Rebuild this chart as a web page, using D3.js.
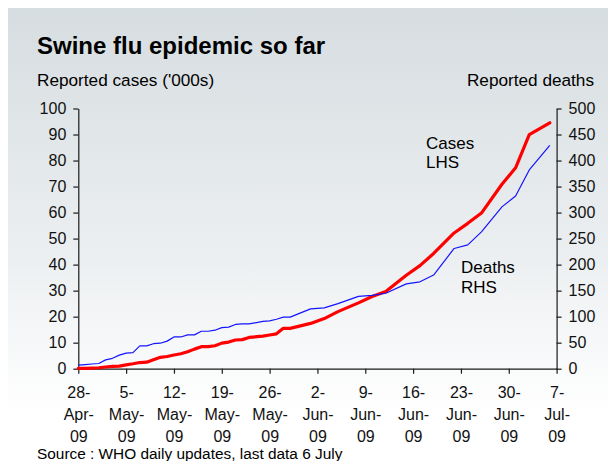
<!DOCTYPE html>
<html>
<head>
<meta charset="utf-8">
<script src="https://cdn.jsdelivr.net/npm/d3@7"></script>
<style>
  html, body { margin: 0; padding: 0; background: #ffffff; }
  svg { display: block; font-family: "Liberation Sans", Arial, sans-serif; }
</style>
</head>
<body>
<svg id="chart" width="608" height="461"></svg>
<script>
// WHO cumulative figures by update date
const dates = [
  "2009-04-28","2009-04-29","2009-04-30","2009-05-01","2009-05-02","2009-05-03","2009-05-04",
  "2009-05-05","2009-05-06","2009-05-07","2009-05-08","2009-05-09","2009-05-10","2009-05-11",
  "2009-05-12","2009-05-13","2009-05-14","2009-05-15","2009-05-16","2009-05-17","2009-05-18",
  "2009-05-19","2009-05-20","2009-05-21","2009-05-22","2009-05-23","2009-05-25","2009-05-26",
  "2009-05-27","2009-05-28","2009-05-29","2009-06-01","2009-06-03","2009-06-05","2009-06-08",
  "2009-06-10","2009-06-12","2009-06-15","2009-06-17","2009-06-19","2009-06-22","2009-06-24",
  "2009-06-26","2009-06-29","2009-07-01","2009-07-03","2009-07-06"
];
// reported cases, thousands (left axis)
const cases = [
  0.105, 0.148, 0.257, 0.367, 0.658, 0.898, 0.985,
  1.49, 1.89, 2.37, 2.5, 3.44, 4.38, 4.69,
  5.25, 5.73, 6.5, 7.52, 8.45, 8.48, 8.83,
  9.83, 10.24, 11.03, 11.17, 12.02, 12.52, 12.95,
  13.4, 15.51, 15.51, 17.41, 19.27, 21.94, 25.29,
  27.74, 29.67, 35.93, 39.62, 44.29, 52.16, 55.87,
  59.81, 70.89, 77.2, 89.92, 94.51
];
// reported deaths (right axis)
const deaths = [
  7, 8, 9, 10, 17, 20, 26,
  30, 31, 44, 44, 48, 49, 53,
  61, 61, 65, 65, 72, 72, 74,
  79, 80, 85, 86, 86, 91, 92,
  95, 99, 99, 115, 117, 125, 139,
  141, 145, 163, 167, 180, 231, 238,
  263, 311, 332, 382, 429
];

const tickDates = ["2009-04-28","2009-05-05","2009-05-12","2009-05-19","2009-05-26","2009-06-02",
                   "2009-06-09","2009-06-16","2009-06-23","2009-06-30","2009-07-07"];
const tickDay   = ["28","5","12","19","26","2","9","16","23","30","7"];
const tickMonth = ["Apr","May","May","May","May","Jun","Jun","Jun","Jun","Jun","Jul"];
const tickYear  = ["09","09","09","09","09","09","09","09","09","09","09"];
const leftTicks  = [0,10,20,30,40,50,60,70,80,90,100];
const rightTicks = [0,50,100,150,200,250,300,350,400,450,500];

const parse = d3.timeParse("%Y-%m-%d");
const rows = dates.map((d, i) => ({ date: parse(d), cases: cases[i], deaths: deaths[i] }));

const svg = d3.select("#chart");
const W = 608, H = 461;
const plot = { left: 78.3, right: 556.6, top: 108.5, bottom: 368.7 };

// panel background
const defs = svg.append("defs");
const grad = defs.append("linearGradient")
  .attr("id", "bg").attr("x1", 0).attr("y1", 0).attr("x2", 0).attr("y2", 1);
grad.append("stop").attr("offset", "0%").attr("stop-color", "#d6dde0");
grad.append("stop").attr("offset", "55%").attr("stop-color", "#eceff1");
grad.append("stop").attr("offset", "90%").attr("stop-color", "#ffffff");
svg.append("rect").attr("x", 8).attr("y", 8).attr("width", W - 8).attr("height", H - 8)
  .attr("fill", "url(#bg)");

const x = d3.scaleTime()
  .domain([parse(tickDates[0]), parse(tickDates[tickDates.length - 1])])
  .range([plot.left, plot.right]);
const yL = d3.scaleLinear().domain([0, 100]).range([plot.bottom, plot.top]);
const yR = d3.scaleLinear().domain([0, 500]).range([plot.bottom, plot.top]);

const axisColor = "#1a1a1a";
const tickFont = "16px";

// left axis
const gL = svg.append("g").attr("transform", `translate(${plot.left},0)`)
  .call(d3.axisLeft(yL).tickValues(leftTicks).tickSize(5).tickSizeOuter(0).tickPadding(7));
// right axis
const gR = svg.append("g").attr("transform", `translate(${plot.right},0)`)
  .call(d3.axisRight(yR).tickValues(rightTicks).tickSize(5).tickSizeOuter(0).tickPadding(7));
// bottom axis
const gX = svg.append("g").attr("transform", `translate(0,${plot.bottom})`)
  .call(d3.axisBottom(x).tickValues(tickDates.map(parse)).tickSize(5).tickSizeOuter(0).tickFormat(() => ""));

[gL, gR, gX].forEach(g => {
  g.select(".domain").attr("stroke", axisColor).attr("stroke-width", 1.2);
  g.selectAll(".tick line").attr("stroke", axisColor).attr("stroke-width", 1.2);
  g.selectAll(".tick text").attr("fill", "#111").style("font-size", tickFont)
    .style("font-family", "'Liberation Sans', Arial, sans-serif");
});

// three-line date labels under the bottom ticks
const lbl = gX.selectAll(".tick").select("text").text(null)
  .attr("y", 0).attr("dy", null);
lbl.each(function(d, i) {
  const t = d3.select(this);
  t.append("tspan").attr("x", 0).attr("y", 29.5).text(tickDay[i] + "-");
  t.append("tspan").attr("x", 0).attr("y", 51.5).text(tickMonth[i] + "-");
  t.append("tspan").attr("x", 0).attr("y", 73.5).text(tickYear[i]);
});

// series
const lineCases = d3.line().x(d => x(d.date)).y(d => yL(d.cases));
const lineDeaths = d3.line().x(d => x(d.date)).y(d => yR(d.deaths));

svg.append("path").datum(rows).attr("d", lineCases)
  .attr("fill", "none").attr("stroke", "#ff0000").attr("stroke-width", 3.2)
  .attr("stroke-linejoin", "round").attr("stroke-linecap", "round");
svg.append("path").datum(rows).attr("d", lineDeaths)
  .attr("fill", "none").attr("stroke", "#1414ff").attr("stroke-width", 1.2)
  .attr("stroke-linejoin", "round");

// titles and annotations
const txt = (s, xp, yp, size, weight, anchor) =>
  svg.append("text").attr("x", xp).attr("y", yp).attr("fill", "#000")
    .style("font-size", size).style("font-weight", weight || "normal")
    .attr("text-anchor", anchor || "start").text(s);

txt("Swine flu epidemic so far", 37, 54, "24px", "bold");
txt("Reported cases ('000s)", 37, 86, "17.2px");
txt("Reported deaths", 594, 86, "17.2px", "normal", "end");
txt("Cases", 426, 148.5, "17px");
txt("LHS", 426, 168, "17px");
txt("Deaths", 461, 273, "17px");
txt("RHS", 461, 293, "17px");
txt("Source : WHO daily updates, last data 6 July", 37, 459, "15.4px");
</script>
</body>
</html>
